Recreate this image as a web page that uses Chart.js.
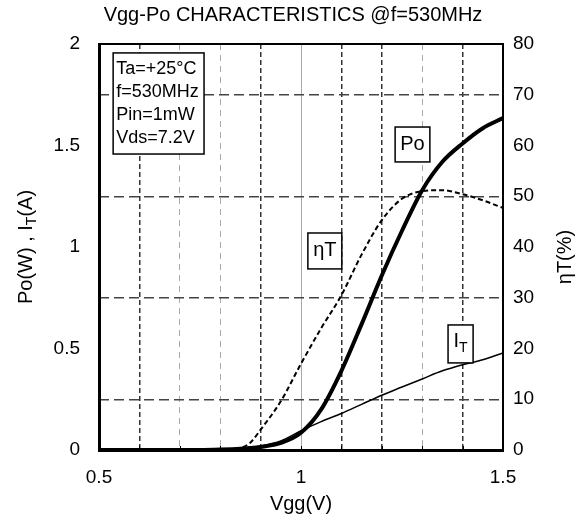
<!DOCTYPE html>
<html>
<head>
<meta charset="utf-8">
<script src="https://cdn.jsdelivr.net/npm/chart.js@4"></script>
<style>
  html, body { margin: 0; padding: 0; background: #fff; }
  #wrap { width: 583px; height: 526px; }
</style>
</head>
<body>
<div id="wrap"><canvas id="chart" width="583" height="526"></canvas></div>
<script>
// Vgg (V) sample points
const vgg = [0.5, 0.6, 0.7, 0.75, 0.8, 0.85, 0.875, 0.9, 0.95, 1.0, 1.05, 1.1, 1.15, 1.2, 1.25, 1.3, 1.35, 1.4, 1.45, 1.5];
// output power Po (W)
const po = [0, 0, 0, 0, 0.002, 0.006, 0.01, 0.015, 0.035, 0.085, 0.2, 0.39, 0.62, 0.86, 1.08, 1.28, 1.42, 1.51, 1.585, 1.635];
// total current I_T (A)
const it = [0, 0, 0, 0, 0.002, 0.008, 0.013, 0.02, 0.045, 0.095, 0.14, 0.18, 0.225, 0.27, 0.31, 0.35, 0.39, 0.42, 0.445, 0.478];
// total efficiency ηT (%)
const eta = [0, 0, 0, 0, 0.1, 0.4, 1.5, 4, 9.6, 17, 24, 30.5, 38.5, 45.3, 49.5, 51, 51.2, 50.4, 49.2, 47.7];

const leftTicks = [0, 0.5, 1, 1.5, 2];
const rightTicks = [0, 10, 20, 30, 40, 50, 60, 70, 80];
const xLabels = [0.5, 1, 1.5];

const conditions = ['Ta=+25\u00B0C', 'f=530MHz', 'Pin=1mW', 'Vds=7.2V'];

const FONT = '"Liberation Sans", Arial, sans-serif';
const TICK_SIZE = 19;
const darkX = [6, 9, 11, 12, 14];   // tenths of a volt drawn as dark dashes
const lightX = [7, 8, 13];

const pts = (ys) => vgg.map((x, i) => ({ x, y: ys[i] }));

// draws text where "_X" makes X a subscript
function richText(ctx, str, x, y, size, align) {
  const parts = [];
  for (let i = 0; i < str.length; i++) {
    if (str[i] === '_') { parts.push({ t: str[i + 1], sub: true }); i++; }
    else if (parts.length && !parts[parts.length - 1].sub) parts[parts.length - 1].t += str[i];
    else parts.push({ t: str[i], sub: false });
  }
  const subSize = Math.round(size * 0.7);
  let w = 0;
  parts.forEach(p => { ctx.font = `${p.sub ? subSize : size}px ${FONT}`; p.w = ctx.measureText(p.t).width; w += p.w; });
  let cx = align === 'center' ? x - w / 2 : x;
  ctx.textAlign = 'left';
  ctx.textBaseline = 'middle';
  parts.forEach(p => {
    ctx.font = `${p.sub ? subSize : size}px ${FONT}`;
    ctx.fillText(p.t, cx, p.sub ? y + size * 0.3 : y);
    cx += p.w;
  });
}

const labelBoxes = [
  { text: 'Po', x0: 1.233, x1: 1.319, y0: 1.591, y1: 1.419 },
  { text: '\u03B7T', x0: 1.017, x1: 1.101, y0: 1.069, y1: 0.892 },
  { text: 'I_T', x0: 1.364, x1: 1.426, y0: 0.616, y1: 0.429 },
];

const decor = {
  id: 'decor',
  afterDatasetsDraw(chart) {
    const { ctx, chartArea: a, scales } = chart;
    const sx = scales.x, sy = scales.y;
    ctx.save();
    // inner tick marks
    ctx.strokeStyle = '#000';
    ctx.lineWidth = 1;
    for (let k = 6; k <= 14; k++) {
      const px = Math.round(sx.getPixelForValue(k / 10)) + 0.5;
      ctx.beginPath(); ctx.moveTo(px, a.bottom); ctx.lineTo(px, a.bottom - 4); ctx.stroke();
    }
    // frame top
    ctx.lineWidth = 2;
    ctx.beginPath(); ctx.moveTo(a.left, a.top); ctx.lineTo(a.right, a.top); ctx.stroke();

    // condition box
    const bx0 = sx.getPixelForValue(0.535), bx1 = sx.getPixelForValue(0.76);
    const by0 = sy.getPixelForValue(1.956), by1 = sy.getPixelForValue(1.458);
    ctx.fillStyle = '#fff';
    ctx.fillRect(bx0, by0, bx1 - bx0, by1 - by0);
    ctx.lineWidth = 1.5;
    ctx.strokeRect(bx0, by0, bx1 - bx0, by1 - by0);
    ctx.fillStyle = '#000';
    conditions.forEach((t, i) => richText(ctx, t, bx0 + 3, by0 + 16 + i * 23, 18, 'left'));

    // curve labels
    labelBoxes.forEach(b => {
      const x0 = sx.getPixelForValue(b.x0), x1 = sx.getPixelForValue(b.x1);
      const y0 = sy.getPixelForValue(b.y0), y1 = sy.getPixelForValue(b.y1);
      ctx.fillStyle = '#fff';
      ctx.fillRect(x0, y0, x1 - x0, y1 - y0);
      ctx.lineWidth = 1.5;
      ctx.strokeStyle = '#000';
      ctx.strokeRect(x0, y0, x1 - x0, y1 - y0);
      ctx.fillStyle = '#000';
      richText(ctx, b.text, (x0 + x1) / 2, (y0 + y1) / 2 - (b.text === 'I_T' ? 2 : 0), 20, 'center');
    });

    // titles
    ctx.fillStyle = '#000';
    ctx.font = `20px ${FONT}`;
    ctx.textAlign = 'center';
    ctx.textBaseline = 'middle';
    ctx.fillText('Vgg-Po CHARACTERISTICS @f=530MHz', 293, 15);
    ctx.fillText('Vgg(V)', (a.left + a.right) / 2, 504);
    ctx.save();
    ctx.translate(26, (a.top + a.bottom) / 2);
    ctx.rotate(-Math.PI / 2);
    richText(ctx, 'Po(W) , I_T(A)', 0, 0, 20, 'center');
    ctx.restore();
    ctx.save();
    ctx.translate(565, (a.top + a.bottom) / 2 + 10);
    ctx.rotate(-Math.PI / 2);
    richText(ctx, '\u03B7T(%)', 0, 0, 20, 'center');
    ctx.restore();
    ctx.restore();
  }
};

const tenth = (v) => Math.round(v * 10);

new Chart(document.getElementById('chart'), {
  type: 'line',
  data: {
    datasets: [
      { label: 'Po', data: pts(po), yAxisID: 'y', borderColor: '#000', borderWidth: 4, pointRadius: 0, cubicInterpolationMode: 'monotone' },
      { label: 'IT', data: pts(it), yAxisID: 'y', borderColor: '#000', borderWidth: 1.5, pointRadius: 0, cubicInterpolationMode: 'monotone' },
      { label: 'etaT', data: pts(eta), yAxisID: 'y1', borderColor: '#000', borderWidth: 2, borderDash: [5, 3], pointRadius: 0, cubicInterpolationMode: 'monotone' },
    ]
  },
  options: {
    responsive: false,
    animation: false,
    layout: { padding: { top: 44, left: 0, right: 0, bottom: 0 } },
    plugins: { legend: { display: false }, title: { display: false }, tooltip: { enabled: false } },
    scales: {
      x: {
        type: 'linear', min: 0.5, max: 1.5,
        afterBuildTicks: s => { s.ticks = vgg.filter(v => Math.abs(v * 10 - tenth(v)) < 1e-9).map(v => ({ value: v })); },
        afterFit: s => { s.height = 76; },
        ticks: {
          autoSkip: false, maxRotation: 0, padding: 16, color: '#000',
          font: { family: FONT, size: TICK_SIZE },
          callback: v => xLabels.some(l => Math.abs(l - v) < 1e-9) ? String(v) : ''
        },
        grid: {
          drawTicks: false,
          color: c => {
            const k = tenth(c.tick.value);
            if (darkX.includes(k)) return '#333';
            if (lightX.includes(k) || k === 10) return '#aaa';
            return 'rgba(0,0,0,0)';
          },
          lineWidth: c => darkX.includes(tenth(c.tick.value)) ? 1.5 : 1
        },
        border: {
          color: '#000', width: 3,
          dash: c => tenth(c.tick.value) === 10 ? [] : (darkX.includes(tenth(c.tick.value)) ? [5, 3] : [6, 5])
        }
      },
      y: {
        position: 'left', min: 0, max: 2,
        afterBuildTicks: s => { s.ticks = leftTicks.map(v => ({ value: v })); },
        afterFit: s => { s.width = 99; },
        ticks: { padding: 19, color: '#000', font: { family: FONT, size: TICK_SIZE }, callback: v => String(v) },
        grid: { display: false, drawTicks: false },
        border: { color: '#000', width: 3 }
      },
      y1: {
        position: 'right', min: 0, max: 80,
        afterBuildTicks: s => { s.ticks = rightTicks.map(v => ({ value: v })); },
        afterFit: s => { s.width = 80; },
        ticks: { padding: 10, color: '#000', font: { family: FONT, size: TICK_SIZE }, callback: v => String(v) },
        grid: {
          drawTicks: false,
          color: c => (c.tick.value % 20 === 10) ? '#444' : 'rgba(0,0,0,0)',
          lineWidth: 1.5
        },
        border: { color: '#000', width: 2, dash: [10, 5] }
      }
    }
  },
  plugins: [decor]
});
</script>
</body>
</html>
